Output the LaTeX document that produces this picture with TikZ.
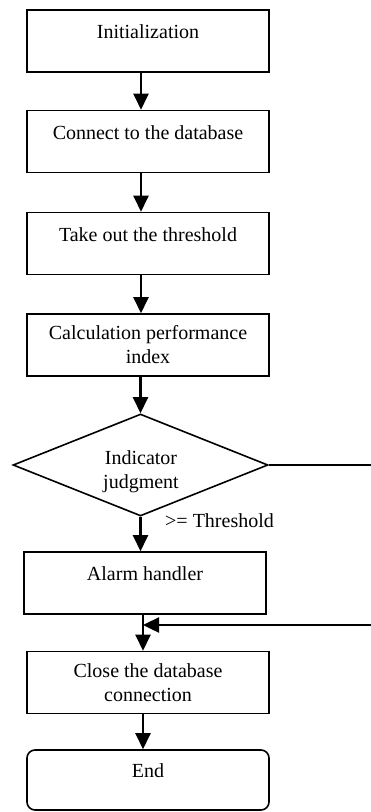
\documentclass[tikz,border=0pt]{standalone}
\usepackage{fontspec}
\setmainfont{Liberation Serif}
\usetikzlibrary{shapes.geometric,arrows.meta}
\begin{document}
\begin{tikzpicture}[x=1pt,y=-1pt,
  every node/.style={font=\fontsize{20}{24}\selectfont},
  box/.style={draw,line width=1.6pt,minimum width=242pt,minimum height=62pt,inner sep=0pt,align=center},
  endbox/.style={box,rounded corners=8pt},
  dec/.style={draw,line width=1.6pt,shape=diamond,minimum width=255pt,minimum height=102pt,inner sep=0pt},
  arr/.style={line width=2.4pt,-{Triangle[length=16pt,width=15pt]}},
  ln/.style={line width=2pt}]
\useasboundingbox (0,0) rectangle (371,812);
\node[box] (b1) at (148,41) {Initialization\\[-6pt]~};
\node[box] (b2) at (148,141.5) {Connect to the database\\[-6pt]~};
\node[box] (b3) at (148,243.5) {Take out the threshold\\[-6pt]~};
\node[box] (b4) at (148,345) {Calculation performance\\index};
\node[dec] (d) at (140.5,465) {};
\node[align=center,inner sep=0pt] (dt) at (141,472) {Indicator\\judgment};
\node[anchor=west,inner sep=0pt] (lab) at (165,521) {>= Threshold};
\node[box] (b5) at (145,583) {Alarm handler\\[-6pt]~};
\node[box] (b6) at (148,682.5) {Close the database\\connection};
\node[endbox,minimum height=60pt] (b7) at (148,780) {End\\[-6pt]~};
\coordinate (ra) at (371,465);
\coordinate (rb) at (371,625);
\coordinate (xa) at (141,0);
\coordinate (xb) at (143,0);
\draw[arr] (b1.south -| xa) -- (b2.north -| xa);
\draw[arr] (b2.south -| xa) -- (b3.north -| xa);
\draw[arr] (b3.south -| xa) -- (b4.north -| xa);
\draw[arr] (b4.south -| d.north) -- (d.north);
\draw[arr] (d.south) -- (b5.north -| d.south);
\draw[arr] (b5.south -| xb) -- (b6.north -| xb);
\draw[arr] (b6.south -| xb) -- (b7.north -| xb);
\draw[ln] (d.east) -- (ra);
\draw[arr] (rb) -- (rb -| xb);
\end{tikzpicture}
\end{document}
